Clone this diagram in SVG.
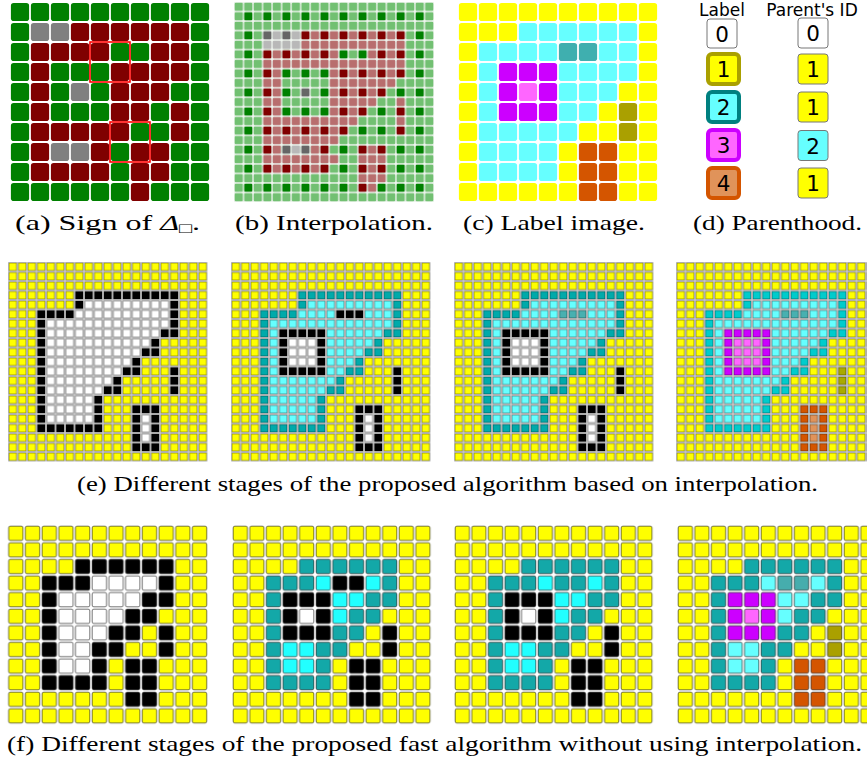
<svg xmlns="http://www.w3.org/2000/svg" width="867" height="762" viewBox="0 0 867 762">
<style>
.wb{fill:#fff}
.bgp{fill:#eef4ee}
.eg{fill:#d8d8d8}
.es{stroke:#000;stroke-opacity:.38;stroke-width:.1}
.fs{stroke:#000;stroke-opacity:.6;stroke-width:.055}
.cap{font-family:"Liberation Serif","Times New Roman",serif;font-size:21px;fill:#000}
.hd{font-family:"DejaVu Sans","Liberation Sans",sans-serif;font-size:17px;fill:#000;text-anchor:middle}
.dg{font-family:"DejaVu Sans","Liberation Sans",sans-serif;font-size:21.5px;fill:#000;text-anchor:middle}
.box{stroke:#777;stroke-width:1}
.lb{stroke-width:4}
</style>
<defs>
<pattern id="aG" width="1" height="1" patternUnits="userSpaceOnUse"><rect class="wb" width="1" height="1"/><rect x=".045" y=".045" width=".91" height=".91" rx=".14" fill="#008000"/></pattern>
<pattern id="aR" width="1" height="1" patternUnits="userSpaceOnUse"><rect class="wb" width="1" height="1"/><rect x=".045" y=".045" width=".91" height=".91" rx=".14" fill="#800000"/></pattern>
<pattern id="aX" width="1" height="1" patternUnits="userSpaceOnUse"><rect class="wb" width="1" height="1"/><rect x=".045" y=".045" width=".91" height=".91" rx=".14" fill="#808080"/></pattern>
<pattern id="cY" width="1" height="1" patternUnits="userSpaceOnUse"><rect class="wb" width="1" height="1"/><rect x=".045" y=".045" width=".91" height=".91" rx=".14" fill="#ffff00"/></pattern>
<pattern id="cC" width="1" height="1" patternUnits="userSpaceOnUse"><rect class="wb" width="1" height="1"/><rect x=".045" y=".045" width=".91" height=".91" rx=".14" fill="#66ffff"/></pattern>
<pattern id="cT" width="1" height="1" patternUnits="userSpaceOnUse"><rect class="wb" width="1" height="1"/><rect x=".045" y=".045" width=".91" height=".91" rx=".14" fill="#3fafaf"/></pattern>
<pattern id="cM" width="1" height="1" patternUnits="userSpaceOnUse"><rect class="wb" width="1" height="1"/><rect x=".045" y=".045" width=".91" height=".91" rx=".14" fill="#cc00ff"/></pattern>
<pattern id="cP" width="1" height="1" patternUnits="userSpaceOnUse"><rect class="wb" width="1" height="1"/><rect x=".045" y=".045" width=".91" height=".91" rx=".14" fill="#ff66ff"/></pattern>
<pattern id="cO" width="1" height="1" patternUnits="userSpaceOnUse"><rect class="wb" width="1" height="1"/><rect x=".045" y=".045" width=".91" height=".91" rx=".14" fill="#aaa000"/></pattern>
<pattern id="cR" width="1" height="1" patternUnits="userSpaceOnUse"><rect class="wb" width="1" height="1"/><rect x=".045" y=".045" width=".91" height=".91" rx=".14" fill="#d45500"/></pattern>

<pattern id="bLG" width="1" height="1" patternUnits="userSpaceOnUse"><rect class="bgp" width="1" height="1"/><rect x=".07" y=".07" width=".86" height=".86" rx=".12" fill="#72c072"/></pattern>
<pattern id="bLR" width="1" height="1" patternUnits="userSpaceOnUse"><rect class="bgp" width="1" height="1"/><rect x=".07" y=".07" width=".86" height=".86" rx=".12" fill="#b86e6e"/></pattern>
<pattern id="bLX" width="1" height="1" patternUnits="userSpaceOnUse"><rect class="bgp" width="1" height="1"/><rect x=".07" y=".07" width=".86" height=".86" rx=".12" fill="#b8b8b8"/></pattern>
<pattern id="bDG" width="1" height="1" patternUnits="userSpaceOnUse"><rect class="bgp" x=".5" y=".5" width=".5" height=".5"/><rect x=".535" y=".535" width=".43" height=".43" rx=".06" fill="#008000"/></pattern>
<pattern id="bDR" width="1" height="1" patternUnits="userSpaceOnUse"><rect class="bgp" x=".5" y=".5" width=".5" height=".5"/><rect x=".535" y=".535" width=".43" height=".43" rx=".06" fill="#800000"/></pattern>
<pattern id="bDX" width="1" height="1" patternUnits="userSpaceOnUse"><rect class="bgp" x=".5" y=".5" width=".5" height=".5"/><rect x=".535" y=".535" width=".43" height=".43" rx=".06" fill="#666666"/></pattern>

<pattern id="eY" width="1" height="1" patternUnits="userSpaceOnUse"><rect class="eg" width="1" height="1"/><rect class="es" x=".1" y=".1" width=".8" height=".8" fill="#ffff00"/></pattern>
<pattern id="eW" width="1" height="1" patternUnits="userSpaceOnUse"><rect class="eg" width="1" height="1"/><rect class="es" x=".1" y=".1" width=".8" height=".8" fill="#ffffff"/></pattern>
<pattern id="eK" width="1" height="1" patternUnits="userSpaceOnUse"><rect class="eg" width="1" height="1"/><rect class="es" x=".1" y=".1" width=".8" height=".8" fill="#000000"/></pattern>
<pattern id="eC" width="1" height="1" patternUnits="userSpaceOnUse"><rect class="eg" width="1" height="1"/><rect class="es" x=".1" y=".1" width=".8" height=".8" fill="#66ffff"/></pattern>
<pattern id="eT" width="1" height="1" patternUnits="userSpaceOnUse"><rect class="eg" width="1" height="1"/><rect class="es" x=".1" y=".1" width=".8" height=".8" fill="#00aaaa"/></pattern>
<pattern id="eT2" width="1" height="1" patternUnits="userSpaceOnUse"><rect class="eg" width="1" height="1"/><rect class="es" x=".1" y=".1" width=".8" height=".8" fill="#00cccc"/></pattern>
<pattern id="eG" width="1" height="1" patternUnits="userSpaceOnUse"><rect class="eg" width="1" height="1"/><rect class="es" x=".1" y=".1" width=".8" height=".8" fill="#48b0b0"/></pattern>
<pattern id="eM" width="1" height="1" patternUnits="userSpaceOnUse"><rect class="eg" width="1" height="1"/><rect class="es" x=".1" y=".1" width=".8" height=".8" fill="#cc00ff"/></pattern>
<pattern id="eP" width="1" height="1" patternUnits="userSpaceOnUse"><rect class="eg" width="1" height="1"/><rect class="es" x=".1" y=".1" width=".8" height=".8" fill="#ff66ff"/></pattern>
<pattern id="eO" width="1" height="1" patternUnits="userSpaceOnUse"><rect class="eg" width="1" height="1"/><rect class="es" x=".1" y=".1" width=".8" height=".8" fill="#aaaa00"/></pattern>
<pattern id="eR" width="1" height="1" patternUnits="userSpaceOnUse"><rect class="eg" width="1" height="1"/><rect class="es" x=".1" y=".1" width=".8" height=".8" fill="#d45500"/></pattern>
<pattern id="eL" width="1" height="1" patternUnits="userSpaceOnUse"><rect class="eg" width="1" height="1"/><rect class="es" x=".1" y=".1" width=".8" height=".8" fill="#e0935a"/></pattern>

<pattern id="fY" width="1" height="1" patternUnits="userSpaceOnUse"><rect class="wb" width="1" height="1"/><rect class="fs" x=".07" y=".07" width=".86" height=".86" rx=".1" fill="#ffff00"/></pattern>
<pattern id="fW" width="1" height="1" patternUnits="userSpaceOnUse"><rect class="wb" width="1" height="1"/><rect class="fs" x=".07" y=".07" width=".86" height=".86" rx=".1" fill="#ffffff"/></pattern>
<pattern id="fK" width="1" height="1" patternUnits="userSpaceOnUse"><rect class="wb" width="1" height="1"/><rect class="fs" x=".07" y=".07" width=".86" height=".86" rx=".1" fill="#000000"/></pattern>
<pattern id="fC" width="1" height="1" patternUnits="userSpaceOnUse"><rect class="wb" width="1" height="1"/><rect class="fs" x=".07" y=".07" width=".86" height=".86" rx=".1" fill="#22ffff"/></pattern>
<pattern id="fC4" width="1" height="1" patternUnits="userSpaceOnUse"><rect class="wb" width="1" height="1"/><rect class="fs" x=".07" y=".07" width=".86" height=".86" rx=".1" fill="#66ffff"/></pattern>
<pattern id="fT" width="1" height="1" patternUnits="userSpaceOnUse"><rect class="wb" width="1" height="1"/><rect class="fs" x=".07" y=".07" width=".86" height=".86" rx=".1" fill="#13a8a8"/></pattern>
<pattern id="fG" width="1" height="1" patternUnits="userSpaceOnUse"><rect class="wb" width="1" height="1"/><rect class="fs" x=".07" y=".07" width=".86" height=".86" rx=".1" fill="#46adad"/></pattern>
<pattern id="fM" width="1" height="1" patternUnits="userSpaceOnUse"><rect class="wb" width="1" height="1"/><rect class="fs" x=".07" y=".07" width=".86" height=".86" rx=".1" fill="#cc00ff"/></pattern>
<pattern id="fP" width="1" height="1" patternUnits="userSpaceOnUse"><rect class="wb" width="1" height="1"/><rect class="fs" x=".07" y=".07" width=".86" height=".86" rx=".1" fill="#ff66ff"/></pattern>
<pattern id="fO" width="1" height="1" patternUnits="userSpaceOnUse"><rect class="wb" width="1" height="1"/><rect class="fs" x=".07" y=".07" width=".86" height=".86" rx=".1" fill="#aaa000"/></pattern>
<pattern id="fR" width="1" height="1" patternUnits="userSpaceOnUse"><rect class="wb" width="1" height="1"/><rect class="fs" x=".07" y=".07" width=".86" height=".86" rx=".1" fill="#d45500"/></pattern>
</defs>

<rect width="867" height="762" fill="#fff"/>

<!-- (a) -->
<g id="panel-a" transform="translate(10,2) scale(20)">
<rect width="10" height="10" fill="url(#aG)"/>
<path fill="url(#aR)" d="M3 1h6v1h-6z M1 2h4v1h-4z M7 2h2v1h-2z M1 3h1v1h-1z M5 3h4v1h-4z M1 4h1v1h-1z M5 4h3v1h-3z M1 5h1v1h-1z M5 5h2v1h-2z M8 5h1v1h-1z M1 6h5v1h-5z M8 6h1v1h-1z M1 7h1v1h-1z M4 7h1v1h-1z M6 7h2v1h-2z M1 8h4v1h-4z M6 8h2v1h-2z M6 9h1v1h-1z"/>
<path fill="url(#aX)" d="M1 1h2v1h-2z M3 4h1v1h-1z M2 7h2v1h-2z"/>
<rect x="4" y="2" width="2" height="2" fill="none" stroke="#ff0000" stroke-width=".08"/>
<rect x="5" y="6" width="2" height="2" fill="none" stroke="#ff0000" stroke-width=".08"/>
</g>

<!-- (b) -->
<g id="panel-b" transform="translate(234,2) scale(9.524)">
<rect width="21" height="21" fill="url(#bLG)"/>
<path fill="url(#bLR)" d="M7 3h11v2h-11z M3 5h8v1h-8z M14 5h4v1h-4z M3 6h15v1h-15z M3 7h2v8h-2z M10 7h8v1h-8z M10 8h7v1h-7z M10 9h6v1h-6z M10 10h5v1h-5z M10 11h4v1h-4z M17 10h1v4h-1z M5 12h8v1h-8z M5 13h7v1h-7z M5 14h6v1h-6z M8 15h2v1h-2z M13 15h3v4h-3z M3 15h2v3h-2z M5 16h6v1h-6z M5 17h5v1h-5z M13 19h2v1h-2z"/>
<path fill="url(#bLX)" d="M3 3h4v2h-4z M5 15h3v1h-3z"/>
<g transform="scale(2)">
<rect width="10" height="10" fill="url(#bDG)"/>
<path fill="url(#bDR)" d="M3 1h6v1h-6z M1 2h4v1h-4z M7 2h2v1h-2z M1 3h1v1h-1z M5 3h4v1h-4z M1 4h1v1h-1z M5 4h3v1h-3z M1 5h1v1h-1z M5 5h2v1h-2z M8 5h1v1h-1z M1 6h5v1h-5z M8 6h1v1h-1z M1 7h1v1h-1z M4 7h1v1h-1z M6 7h2v1h-2z M1 8h4v1h-4z M6 8h2v1h-2z M6 9h1v1h-1z"/>
<path fill="url(#bDX)" d="M1 1h2v1h-2z M3 4h1v1h-1z M2 7h2v1h-2z"/>
</g>
</g>

<!-- (c) -->
<g id="panel-c" transform="translate(458,2) scale(20)">
<rect width="10" height="10" fill="url(#cY)"/>
<path fill="url(#cC)" d="M3 1h6v1h-6z M1 2h4v1h-4z M7 2h2v1h-2z M1 3h1v1h-1z M5 3h4v1h-4z M1 4h1v1h-1z M5 4h3v1h-3z M1 5h1v1h-1z M5 5h2v1h-2z M1 6h5v1h-5z M1 7h4v2h-4z"/>
<path fill="url(#cT)" d="M5 2h2v1h-2z"/>
<path fill="url(#cM)" d="M2 3h3v1h-3z M2 4h1v1h-1z M4 4h1v1h-1z M2 5h3v1h-3z"/>
<path fill="url(#cP)" d="M3 4h1v1h-1z"/>
<path fill="url(#cO)" d="M8 5h1v2h-1z"/>
<path fill="url(#cR)" d="M6 7h2v3h-2z"/>
</g>

<!-- (d) -->
<g id="panel-d">
<text class="hd" x="722" y="16">Label</text>
<text class="hd" x="812" y="16">Parent's ID</text>
<rect class="box" x="707" y="19" width="30" height="29" rx="3" fill="#fff"/>
<rect class="lb" x="708" y="54" width="31" height="30" rx="4" fill="#ffff00" stroke="#aaa000"/>
<rect class="lb" x="708" y="92" width="31" height="30" rx="4" fill="#66ffff" stroke="#008080"/>
<rect class="lb" x="708" y="130" width="31" height="30" rx="4" fill="#ff66ff" stroke="#cc00ff"/>
<rect class="lb" x="708" y="168" width="31" height="30" rx="4" fill="#e0935a" stroke="#d45500"/>
<text class="dg" x="722" y="41.5">0</text>
<text class="dg" x="723.5" y="77">1</text>
<text class="dg" x="723.5" y="115">2</text>
<text class="dg" x="723.5" y="153">3</text>
<text class="dg" x="723.5" y="191">4</text>
<rect class="box" x="798" y="18" width="30" height="30" rx="3" fill="#fff"/>
<rect class="box" x="798" y="54" width="30" height="30" rx="3" fill="#ffff00"/>
<rect class="box" x="798" y="92" width="30" height="30" rx="3" fill="#ffff00"/>
<rect class="box" x="798" y="130.5" width="30" height="30" rx="3" fill="#66ffff"/>
<rect class="box" x="798" y="168" width="30" height="30" rx="3" fill="#ffff00"/>
<text class="dg" x="813" y="41">0</text>
<text class="dg" x="813" y="77">1</text>
<text class="dg" x="813" y="115">1</text>
<text class="dg" x="813" y="153.5">2</text>
<text class="dg" x="813" y="191">1</text>
</g>

<g id="captions-top">
<text class="cap" x="15" y="229.5" textLength="185" lengthAdjust="spacingAndGlyphs">(a) Sign of <tspan font-style="italic">Δ</tspan><tspan font-size="14" dy="3">□</tspan><tspan dy="-3">.</tspan></text>
<text class="cap" x="235" y="229.5" textLength="198" lengthAdjust="spacingAndGlyphs">(b) Interpolation.</text>
<text class="cap" x="463" y="229.5" textLength="182" lengthAdjust="spacingAndGlyphs">(c) Label image.</text>
<text class="cap" x="693" y="229.5" textLength="169" lengthAdjust="spacingAndGlyphs">(d) Parenthood.</text>
</g>

<!-- (e) row -->
<g id="panel-e1" transform="translate(8,262) scale(9.5)">
<rect width="21" height="21" fill="url(#eY)"/>
<path fill="url(#eW)" d="M8 4h9v1h-9z M7 5h10v1h-10z M4 6h13v1h-13z M4 7h12v1h-12z M4 8h11v1h-11z M4 9h10v1h-10z M4 10h9v1h-9z M4 11h8v1h-8z M4 12h7v1h-7z M4 13h6v1h-6z M4 14h5v3h-5z M14 16h1v3h-1z"/>
<path fill="url(#eK)" d="M7 3h11v1h-11z M7 4h1v1h-1z M17 4h1v3h-1z M3 5h4v1h-4z M3 6h1v11h-1z M16 7h2v1h-2z M15 8h1v1h-1z M14 9h2v1h-2z M13 10h1v1h-1z M12 11h2v1h-2z M11 12h1v1h-1z M10 13h2v1h-2z M9 14h1v3h-1z M3 17h7v1h-7z M17 11h1v3h-1z M13 15h3v1h-3z M13 16h1v3h-1z M15 16h1v3h-1z M13 19h3v1h-3z"/>
</g>

<g id="panel-e2" transform="translate(231,262) scale(9.5)">
<rect width="21" height="21" fill="url(#eY)"/>
<path fill="url(#eT)" d="M7 3h11v1h-11z M7 4h1v1h-1z M17 4h1v3h-1z M3 5h4v1h-4z M3 6h1v11h-1z M16 7h2v1h-2z M15 8h1v1h-1z M14 9h2v1h-2z M13 10h1v1h-1z M12 11h2v1h-2z M11 12h1v1h-1z M10 13h2v1h-2z M9 14h1v3h-1z M3 17h7v1h-7z"/>
<path fill="url(#eC)" d="M8 4h9v1h-9z M7 5h10v1h-10z M4 6h13v1h-13z M4 7h12v1h-12z M4 8h11v1h-11z M4 9h10v1h-10z M4 10h9v1h-9z M4 11h8v1h-8z M4 12h7v1h-7z M4 13h6v1h-6z M4 14h5v3h-5z"/>
<path fill="url(#eK)" d="M11 5h3v1h-3z M5 7h5v1h-5z M5 8h1v3h-1z M9 8h1v3h-1z M5 11h5v1h-5z M17 11h1v3h-1z M13 15h3v1h-3z M13 16h1v3h-1z M15 16h1v3h-1z M13 19h3v1h-3z"/>
<path fill="url(#eW)" d="M6 8h3v3h-3z M14 16h1v3h-1z"/>
</g>

<g id="panel-e3" transform="translate(454,262) scale(9.5)">
<rect width="21" height="21" fill="url(#eY)"/>
<path fill="url(#eT)" d="M7 3h11v1h-11z M7 4h1v1h-1z M17 4h1v3h-1z M3 5h4v1h-4z M3 6h1v11h-1z M16 7h2v1h-2z M15 8h1v1h-1z M14 9h2v1h-2z M13 10h1v1h-1z M12 11h2v1h-2z M11 12h1v1h-1z M10 13h2v1h-2z M9 14h1v3h-1z M3 17h7v1h-7z"/>
<path fill="url(#eC)" d="M8 4h9v1h-9z M7 5h10v1h-10z M4 6h13v1h-13z M4 7h12v1h-12z M4 8h11v1h-11z M4 9h10v1h-10z M4 10h9v1h-9z M4 11h8v1h-8z M4 12h7v1h-7z M4 13h6v1h-6z M4 14h5v3h-5z"/>
<path fill="url(#eG)" d="M11 5h3v1h-3z"/>
<path fill="url(#eK)" d="M5 7h5v1h-5z M5 8h1v3h-1z M9 8h1v3h-1z M5 11h5v1h-5z M17 11h1v3h-1z M13 15h3v1h-3z M13 16h1v3h-1z M15 16h1v3h-1z M13 19h3v1h-3z"/>
<path fill="url(#eW)" d="M6 8h3v3h-3z M14 16h1v3h-1z"/>
</g>

<g id="panel-e4" transform="translate(676,262) scale(9.5)">
<rect width="21" height="21" fill="url(#eY)"/>
<path fill="url(#eT2)" d="M7 3h11v1h-11z M7 4h1v1h-1z M17 4h1v3h-1z M3 5h4v1h-4z M3 6h1v11h-1z M16 7h2v1h-2z M15 8h1v1h-1z M14 9h2v1h-2z M13 10h1v1h-1z M12 11h2v1h-2z M11 12h1v1h-1z M10 13h2v1h-2z M9 14h1v3h-1z M3 17h7v1h-7z"/>
<path fill="url(#eC)" d="M8 4h9v1h-9z M7 5h10v1h-10z M4 6h13v1h-13z M4 7h12v1h-12z M4 8h11v1h-11z M4 9h10v1h-10z M4 10h9v1h-9z M4 11h8v1h-8z M4 12h7v1h-7z M4 13h6v1h-6z M4 14h5v3h-5z"/>
<path fill="url(#eG)" d="M11 5h3v1h-3z"/>
<path fill="url(#eM)" d="M5 7h5v1h-5z M5 8h1v3h-1z M9 8h1v3h-1z M5 11h5v1h-5z"/>
<path fill="url(#eP)" d="M6 8h3v3h-3z"/>
<path fill="url(#eO)" d="M17 11h1v3h-1z"/>
<path fill="url(#eR)" d="M13 15h3v1h-3z M13 16h1v3h-1z M15 16h1v3h-1z M13 19h3v1h-3z"/>
<path fill="url(#eL)" d="M14 16h1v3h-1z"/>
</g>

<text id="caption-e" class="cap" x="77" y="491" textLength="741" lengthAdjust="spacingAndGlyphs">(e) Different stages of the proposed algorithm based on interpolation.</text>

<!-- (f) row -->
<g id="panel-f1" transform="translate(7.5,525) scale(16.7,16.6)">
<rect width="12" height="12" fill="url(#fY)"/>
<path fill="url(#fW)" d="M5 3h4v1h-4z M3 4h5v1h-5z M3 5h4v1h-4z M3 6h3v1h-3z M3 7h2v2h-2z"/>
<path fill="url(#fK)" d="M4 2h6v1h-6z M2 3h3v1h-3z M9 3h1v1h-1z M2 4h1v6h-1z M8 4h2v1h-2z M7 5h2v1h-2z M6 6h2v1h-2z M9 6h1v2h-1z M5 7h2v1h-2z M5 8h1v1h-1z M3 9h3v1h-3z M7 8h2v3h-2z"/>
</g>

<g id="panel-f2" transform="translate(232,525) scale(16.6)">
<rect width="12" height="12" fill="url(#fY)"/>
<path fill="url(#fT)" d="M4 2h6v1h-6z M2 3h3v1h-3z M9 3h1v1h-1z M2 4h1v6h-1z M8 4h2v1h-2z M7 5h2v1h-2z M6 6h2v1h-2z M5 7h2v1h-2z M5 8h1v1h-1z M3 9h3v1h-3z"/>
<path fill="url(#fC)" d="M5 3h1v1h-1z M8 3h1v1h-1z M6 4h2v1h-2z M6 5h1v1h-1z M3 7h2v2h-2z"/>
<path fill="url(#fK)" d="M6 3h2v1h-2z M3 4h3v1h-3z M3 5h1v1h-1z M5 5h1v1h-1z M3 6h3v1h-3z M9 6h1v2h-1z M7 8h2v3h-2z"/>
<path fill="url(#fW)" d="M4 5h1v1h-1z"/>
</g>

<g id="panel-f3" transform="translate(454,525) scale(16.6)">
<rect width="12" height="12" fill="url(#fY)"/>
<path fill="url(#fT)" d="M4 2h6v1h-6z M2 3h3v1h-3z M6 3h2v1h-2z M9 3h1v1h-1z M2 4h1v6h-1z M8 4h2v1h-2z M7 5h2v1h-2z M6 6h2v1h-2z M5 7h2v1h-2z M5 8h1v1h-1z M3 9h3v1h-3z"/>
<path fill="url(#fC)" d="M5 3h1v1h-1z M8 3h1v1h-1z M6 4h2v1h-2z M6 5h1v1h-1z M3 7h2v2h-2z"/>
<path fill="url(#fK)" d="M3 4h3v1h-3z M3 5h1v1h-1z M5 5h1v1h-1z M3 6h3v1h-3z M9 6h1v2h-1z M7 8h2v3h-2z"/>
<path fill="url(#fW)" d="M4 5h1v1h-1z"/>
</g>

<g id="panel-f4" transform="translate(677,525) scale(16.6)">
<rect width="12" height="12" fill="url(#fY)"/>
<path fill="url(#fT)" d="M4 2h6v1h-6z M2 3h3v1h-3z M9 3h1v1h-1z M2 4h1v6h-1z M8 4h2v1h-2z M7 5h2v1h-2z M6 6h2v1h-2z M5 7h2v1h-2z M5 8h1v1h-1z M3 9h3v1h-3z"/>
<path fill="url(#fC4)" d="M5 3h1v1h-1z M8 3h1v1h-1z M6 4h2v1h-2z M6 5h1v1h-1z M3 7h2v2h-2z"/>
<path fill="url(#fG)" d="M6 3h2v1h-2z"/>
<path fill="url(#fM)" d="M3 4h3v1h-3z M3 5h1v1h-1z M5 5h1v1h-1z M3 6h3v1h-3z"/>
<path fill="url(#fP)" d="M4 5h1v1h-1z"/>
<path fill="url(#fO)" d="M9 6h1v2h-1z"/>
<path fill="url(#fR)" d="M7 8h2v3h-2z"/>
</g>

<text id="caption-f" class="cap" x="7" y="751" textLength="855" lengthAdjust="spacingAndGlyphs">(f) Different stages of the proposed fast algorithm without using interpolation.</text>
</svg>
